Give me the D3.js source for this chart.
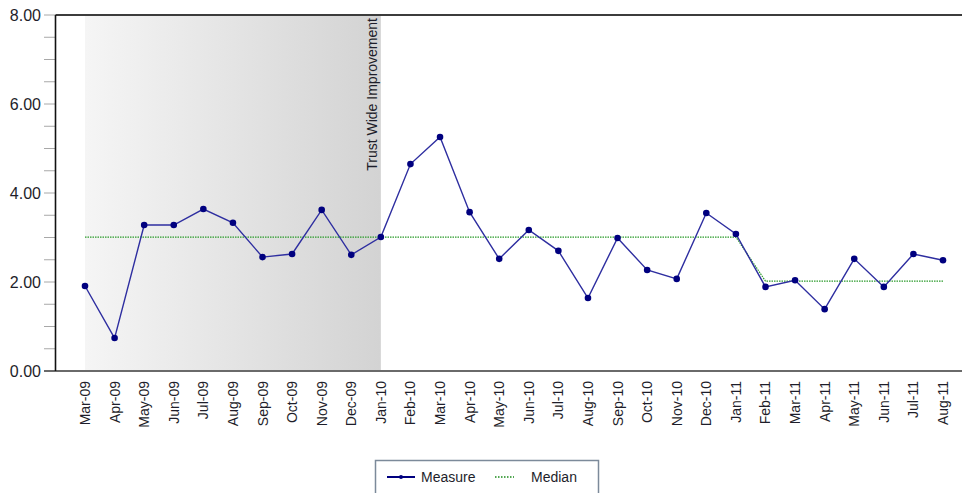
<!DOCTYPE html>
<html>
<head>
<meta charset="utf-8">
<script src="https://cdn.jsdelivr.net/npm/d3@7"></script>
<style>
  body { margin: 0; background: #fff; }
  text { font-family: "Liberation Sans", Arial, sans-serif; fill: #1e1e2a; }
</style>
</head>
<body>
<div id="chart"></div>
<script>
// months on the x axis
const months = ["Mar-09","Apr-09","May-09","Jun-09","Jul-09","Aug-09","Sep-09","Oct-09","Nov-09","Dec-09",
  "Jan-10","Feb-10","Mar-10","Apr-10","May-10","Jun-10","Jul-10","Aug-10","Sep-10","Oct-10","Nov-10","Dec-10",
  "Jan-11","Feb-11","Mar-11","Apr-11","May-11","Jun-11","Jul-11","Aug-11"];

const measure = [1.91, 0.74, 3.28, 3.28, 3.64, 3.33, 2.56, 2.63, 3.62, 2.61,
  3.01, 4.65, 5.26, 3.57, 2.52, 3.17, 2.70, 1.64, 2.99, 2.27, 2.07, 3.55,
  3.08, 1.89, 2.04, 1.39, 2.52, 1.89, 2.63, 2.49];

const median = [3.01, 3.01, 3.01, 3.01, 3.01, 3.01, 3.01, 3.01, 3.01, 3.01,
  3.01, 3.01, 3.01, 3.01, 3.01, 3.01, 3.01, 3.01, 3.01, 3.01, 3.01, 3.01,
  3.01, 2.02, 2.02, 2.02, 2.02, 2.02, 2.02, 2.02];

const yTicks = [0, 2, 4, 6, 8];
const yMinor = [0.5, 1, 1.5, 2.5, 3, 3.5, 4.5, 5, 5.5, 6.5, 7, 7.5];

// shaded period
const bandStart = "Mar-09", bandEnd = "Jan-10";
const bandLabel = "Trust Wide Improvement";

const W = 962, H = 493;
const plot = { left: 55.5, top: 15, right: 962, bottom: 371 };

var svg = d3.select("#chart").append("svg")
  .attr("width", W)
  .attr("height", H);

var x = d3.scalePoint()
  .domain(months)
  .range([85, 943]);

var y = d3.scaleLinear()
  .domain([0, 8])
  .range([plot.bottom, plot.top]);

// gradient for the improvement band
var defs = svg.append("defs");
var grad = defs.append("linearGradient")
  .attr("id", "bandGrad")
  .attr("x1", "0%").attr("x2", "100%")
  .attr("y1", "0%").attr("y2", "0%");
grad.append("stop").attr("offset", "0%").attr("stop-color", "#f5f5f5");
grad.append("stop").attr("offset", "100%").attr("stop-color", "#d3d3d3");

svg.append("rect")
  .attr("x", x(bandStart))
  .attr("y", plot.top + 1)
  .attr("width", x(bandEnd) - x(bandStart))
  .attr("height", plot.bottom - plot.top - 1)
  .attr("fill", "url(#bandGrad)");

svg.append("text")
  .attr("transform", `translate(${x(bandEnd)}, 18) rotate(-90)`)
  .attr("text-anchor", "end")
  .attr("dy", "-4")
  .style("font-size", "14px")
  .text(bandLabel);

// y axis ticks (major + minor, same length)
svg.append("g")
  .selectAll("line")
  .data(yTicks.concat(yMinor))
  .enter().append("line")
  .attr("x1", 44).attr("x2", plot.left)
  .attr("y1", d => y(d)).attr("y2", d => y(d))
  .attr("stroke", "#a8a8a8")
  .attr("stroke-width", 1);

svg.append("g")
  .selectAll("text")
  .data(yTicks)
  .enter().append("text")
  .attr("x", 41)
  .attr("y", d => y(d))
  .attr("dy", "0.36em")
  .attr("text-anchor", "end")
  .style("font-size", "16px")
  .text(d => d3.format(".2f")(d));

// frame lines
svg.append("line")
  .attr("x1", plot.left).attr("x2", plot.right)
  .attr("y1", plot.top).attr("y2", plot.top)
  .attr("stroke", "#3c3c3c").attr("stroke-width", 2);

svg.append("line")
  .attr("x1", 44).attr("x2", plot.right)
  .attr("y1", plot.bottom).attr("y2", plot.bottom)
  .attr("stroke", "#6a6a6a").attr("stroke-width", 2);

svg.append("line")
  .attr("x1", plot.left).attr("x2", plot.left)
  .attr("y1", plot.top).attr("y2", plot.bottom)
  .attr("stroke", "#111").attr("stroke-width", 1.6);

// x labels
var xAxis = d3.axisBottom(x).tickSize(0).tickPadding(0);
var gx = svg.append("g")
  .attr("transform", `translate(0, ${plot.bottom})`)
  .call(xAxis);
gx.select(".domain").remove();
gx.selectAll("text")
  .attr("transform", "translate(0, 10) rotate(-90)")
  .attr("text-anchor", "end")
  .attr("x", 0).attr("y", 0)
  .attr("dy", "0.32em")
  .style("font-size", "14px")
  .style("font-family", "'Liberation Sans', Arial, sans-serif")
  .attr("fill", "#1e1e2a");

// median line
var medLine = d3.line()
  .x((d, i) => x(months[i]))
  .y(d => y(d));

svg.append("path")
  .datum(median)
  .attr("d", medLine)
  .attr("fill", "none")
  .attr("stroke", "#2a9a2a")
  .attr("stroke-width", 1.2)
  .attr("stroke-dasharray", "1.5,1");

// measure line
svg.append("path")
  .datum(measure)
  .attr("d", medLine)
  .attr("fill", "none")
  .attr("stroke", "#2e2ea0")
  .attr("stroke-width", 1.4);

svg.append("g")
  .selectAll("circle")
  .data(measure)
  .enter().append("circle")
  .attr("cx", (d, i) => x(months[i]))
  .attr("cy", d => y(d))
  .attr("r", 3.3)
  .attr("fill", "#00007f");

// legend
var legend = svg.append("g");
legend.append("rect")
  .attr("x", 375.5).attr("y", 460.5)
  .attr("width", 223).attr("height", 45)
  .attr("fill", "#fff")
  .attr("stroke", "#7c8a9a")
  .attr("stroke-width", 1.5);
legend.append("line")
  .attr("x1", 387).attr("x2", 415)
  .attr("y1", 477).attr("y2", 477)
  .attr("stroke", "#00007f").attr("stroke-width", 2);
legend.append("circle")
  .attr("cx", 401).attr("cy", 477).attr("r", 2)
  .attr("fill", "#00007f");
legend.append("text")
  .attr("x", 421).attr("y", 477).attr("dy", "0.36em")
  .style("font-size", "14px")
  .text("Measure");
legend.append("line")
  .attr("x1", 495).attr("x2", 514)
  .attr("y1", 477).attr("y2", 477)
  .attr("stroke", "#1a8a1a").attr("stroke-width", 1.5)
  .attr("stroke-dasharray", "1.5,1.5");
legend.append("text")
  .attr("x", 531).attr("y", 477).attr("dy", "0.36em")
  .style("font-size", "14px")
  .text("Median");
</script>
</body>
</html>
